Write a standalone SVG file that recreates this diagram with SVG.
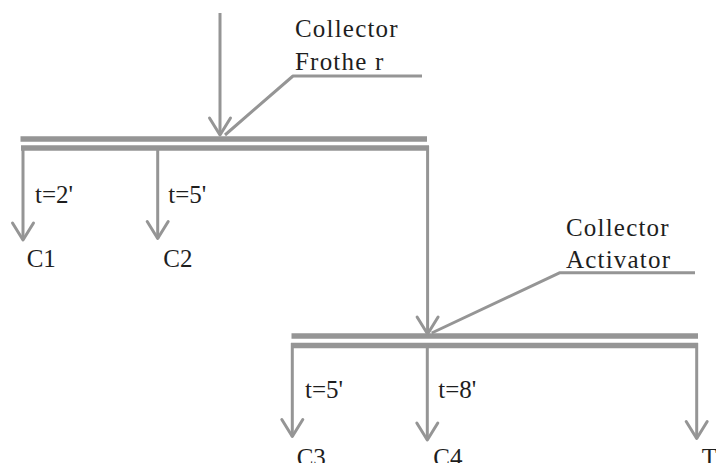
<svg xmlns="http://www.w3.org/2000/svg" width="716" height="463" viewBox="0 0 716 463">
  <style>
    .ln { stroke: #959595; stroke-width: 3; fill: none; stroke-linejoin: round; }
    .bar { stroke: #959595; stroke-width: 5.5; fill: none; }
    .lbl { font-family: "Liberation Serif", "Times New Roman", serif; font-size: 25px; fill: #1e1e1e; }
    .sp { letter-spacing: 1.2px; }
  </style>
  <defs>
    <marker id="v" markerUnits="userSpaceOnUse" markerWidth="40" markerHeight="40" refX="0" refY="0" orient="auto" overflow="visible">
      <path d="M-17,-10.5 L0,0 L-17,10.5" fill="none" stroke="#959595" stroke-width="3" stroke-linejoin="round" stroke-linecap="round"/>
    </marker>
  </defs>
  <rect width="716" height="463" fill="#ffffff"/>

  <g id="cell1">
    <line class="bar" x1="20.5" y1="139" x2="427" y2="139"/>
    <line class="bar" x1="21" y1="148" x2="429" y2="148"/>
  </g>
  <g id="cell2">
    <line class="bar" x1="291.5" y1="336" x2="698" y2="336"/>
    <line class="bar" x1="291" y1="345.5" x2="698" y2="345.5"/>
  </g>

  <g id="connectors">
    <line class="ln" x1="220" y1="13" x2="220" y2="135" marker-end="url(#v)"/>
    <polyline class="ln" points="225,135 293,76 422,76"/>
    <line class="ln" x1="23" y1="146" x2="23" y2="240" marker-end="url(#v)"/>
    <line class="ln" x1="157.7" y1="148" x2="157.7" y2="238.5" marker-end="url(#v)"/>
    <line class="ln" x1="427.6" y1="146" x2="427.6" y2="334" marker-end="url(#v)"/>
    <polyline class="ln" points="431.7,333 560,272.7 695,272.7"/>
    <line class="ln" x1="292.3" y1="343" x2="292.3" y2="436.5" marker-end="url(#v)"/>
    <line class="ln" x1="427.3" y1="345" x2="427.3" y2="440" marker-end="url(#v)"/>
    <line class="ln" x1="696.7" y1="343" x2="696.7" y2="438.5" marker-end="url(#v)"/>
  </g>

  <g id="reagents1">
    <text class="lbl sp" x="295" y="36.5">Collector</text>
    <text class="lbl sp" x="295" y="70">Frothe r</text>
  </g>
  <g id="reagents2">
    <text class="lbl sp" x="566" y="236">Collector</text>
    <text class="lbl sp" x="566" y="268">Activator</text>
  </g>
  <g id="t1"><text class="lbl" x="35" y="203">t=2'</text></g>
  <g id="t2"><text class="lbl" x="168.3" y="203">t=5'</text></g>
  <g id="t3"><text class="lbl" x="305" y="398">t=5'</text></g>
  <g id="t4"><text class="lbl" x="438.3" y="398">t=8'</text></g>
  <g id="C1"><text class="lbl" x="26.7" y="267">C1</text></g>
  <g id="C2"><text class="lbl" x="163.3" y="267">C2</text></g>
  <g id="C3"><text class="lbl" x="296.7" y="466">C3</text></g>
  <g id="C4"><text class="lbl" x="433.3" y="466">C4</text></g>
  <g id="T"><text class="lbl" x="701.7" y="466">T</text></g>
</svg>
